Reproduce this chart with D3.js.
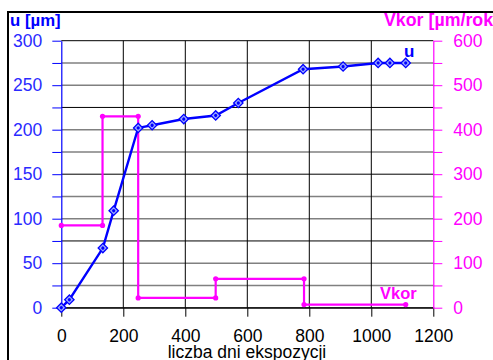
<!DOCTYPE html>
<html>
<head>
<meta charset="utf-8">
<script src="https://cdn.jsdelivr.net/npm/d3@7"></script>
<style>
  body { margin: 0; background: #fff; }
  svg { display: block; font-family: Arial, "Liberation Sans", sans-serif; }
</style>
</head>
<body>
<svg id="chart" width="493" height="360"></svg>
<script>
// u [µm] vs liczba dni ekspozycji
var uDays = [0, 26, 134, 169, 248, 293, 395, 498, 571, 780, 909, 1022, 1060, 1111];
var uVals = [0, 9, 67, 109, 202, 205, 212, 216, 230, 268, 271, 275, 275, 275];

// Vkor [µm/rok] - step intervals
var vkorBreaks = [0, 133, 248, 498, 783, 1111];
var vkorVals = [185, 430, 22, 65, 7];

var xTicks = [0, 200, 400, 600, 800, 1000, 1200];
var uTicks = [0, 50, 100, 150, 200, 250, 300];
var vTicks = [0, 100, 200, 300, 400, 500, 600];

var BLUE = '#0000ff', TBLUE = '#2a2aff', MAG = '#ff00ff';
var FONT = 'Arial, "Liberation Sans", sans-serif';

var svg = d3.select('#chart');
var x = d3.scaleLinear().domain([0, 1200]).range([61.3, 433.3]);
var yL = d3.scaleLinear().domain([0, 300]).range([307.7, 40.7]);
var yR = d3.scaleLinear().domain([0, 600]).range([307.7, 40.7]);

// outer frame
svg.append('rect').attr('x', 8).attr('y', 12).attr('width', 500).attr('height', 360)
  .attr('fill', 'none').attr('stroke', '#000').attr('stroke-width', 2);

// horizontal grid
var minor = d3.range(0, 301, 25);
svg.append('g').selectAll('line').data(minor.filter(function (d) { return d % 75 !== 0; }))
  .enter().append('line')
  .attr('x1', x(0)).attr('x2', x(1200))
  .attr('y1', function (d) { return yL(d); }).attr('y2', function (d) { return yL(d); })
  .attr('stroke', '#808080').attr('stroke-width', 1.6);
svg.append('g').selectAll('line').data(minor.filter(function (d) { return d % 75 === 0; }))
  .enter().append('line')
  .attr('x1', x(0)).attr('x2', x(1200))
  .attr('y1', function (d) { return yL(d); }).attr('y2', function (d) { return yL(d); })
  .attr('stroke', '#000').attr('stroke-width', 1);

// vertical grid
svg.append('g').selectAll('line').data(xTicks.slice(1, -1))
  .enter().append('line')
  .attr('x1', function (d) { return x(d); }).attr('x2', function (d) { return x(d); })
  .attr('y1', yL(300)).attr('y2', yL(0))
  .attr('stroke', '#000').attr('stroke-width', 1);

// x axis
var xAxis = svg.append('g').attr('transform', 'translate(0,' + yL(0) + ')')
  .call(d3.axisBottom(x).tickValues(xTicks).tickSize(9).tickPadding(13).tickSizeOuter(0)
    .tickFormat(d3.format('d')));
xAxis.select('.domain').attr('stroke', '#000');
xAxis.selectAll('line').attr('stroke', '#000');
xAxis.selectAll('text').attr('font-size', 17.5).attr('fill', '#000').attr('font-family', FONT);

// left axis
var lAxis = svg.append('g').attr('transform', 'translate(' + x(0) + ',0)')
  .call(d3.axisLeft(yL).tickValues(minor).tickSize(9).tickPadding(10).tickSizeOuter(0)
    .tickFormat(function (d) { return uTicks.indexOf(d) >= 0 ? d : ''; }));
lAxis.select('.domain').attr('stroke', BLUE).attr('stroke-width', 1.2);
lAxis.selectAll('line').attr('stroke', BLUE);
lAxis.selectAll('text').attr('font-size', 17.5).attr('fill', TBLUE).attr('font-family', FONT);

// right axis
var rAxis = svg.append('g').attr('transform', 'translate(' + x(1200) + ',0)')
  .call(d3.axisRight(yR).tickValues(d3.range(0, 601, 50)).tickSize(9).tickPadding(11).tickSizeOuter(0)
    .tickFormat(function (d) { return vTicks.indexOf(d) >= 0 ? d : ''; }));
rAxis.select('.domain').attr('stroke', MAG).attr('stroke-width', 1.2);
rAxis.selectAll('line').attr('stroke', MAG);
rAxis.selectAll('text').attr('font-size', 17.5).attr('fill', MAG).attr('font-family', FONT);

// Vkor step line
var steps = [];
vkorVals.forEach(function (v, i) {
  steps.push([vkorBreaks[i], v]);
  steps.push([vkorBreaks[i + 1], v]);
});
svg.append('path').datum(steps)
  .attr('fill', 'none').attr('stroke', MAG).attr('stroke-width', 2.2)
  .attr('d', d3.line().x(function (d) { return x(d[0]); }).y(function (d) { return yR(d[1]); }));
svg.append('g').selectAll('circle').data(steps).enter().append('circle')
  .attr('cx', function (d) { return x(d[0]); }).attr('cy', function (d) { return yR(d[1]); })
  .attr('r', 2.6).attr('fill', MAG);

// u line
var uPts = uDays.map(function (d, i) { return [d, uVals[i]]; });
svg.append('path').datum(uPts)
  .attr('fill', 'none').attr('stroke', BLUE).attr('stroke-width', 2.4)
  .attr('d', d3.line().x(function (d) { return x(d[0]); }).y(function (d) { return yL(d[1]); }));
var sym = d3.symbol().type(d3.symbolSquare).size(44);
var mk = svg.append('g').selectAll('g').data(uPts).enter().append('g')
  .attr('transform', function (d) { return 'translate(' + x(d[0]) + ',' + yL(d[1]) + ') rotate(45)'; });
mk.append('path').attr('d', sym).attr('fill', '#9aa8ff').attr('stroke', BLUE).attr('stroke-width', 1.3);
mk.append('circle').attr('r', 1.6).attr('fill', BLUE);

// labels
svg.append('text').attr('x', 10).attr('y', 26).attr('font-size', 16.8).attr('font-weight', 'bold')
  .attr('fill', BLUE).text('u [µm]');
svg.append('text').attr('x', 384).attr('y', 26).attr('font-size', 17.8).attr('font-weight', 'bold')
  .attr('fill', MAG).text('Vkor [µm/rok]');
svg.append('text').attr('x', 404).attr('y', 57).attr('font-size', 17).attr('font-weight', 'bold')
  .attr('fill', BLUE).text('u');
svg.append('text').attr('x', 380).attr('y', 299).attr('font-size', 16.5).attr('font-weight', 'bold')
  .attr('fill', MAG).text('Vkor');
svg.append('text').attr('x', 247).attr('y', 358).attr('text-anchor', 'middle').attr('font-size', 17.5)
  .attr('fill', '#000').text('liczba dni ekspozycji');
</script>
</body>
</html>
